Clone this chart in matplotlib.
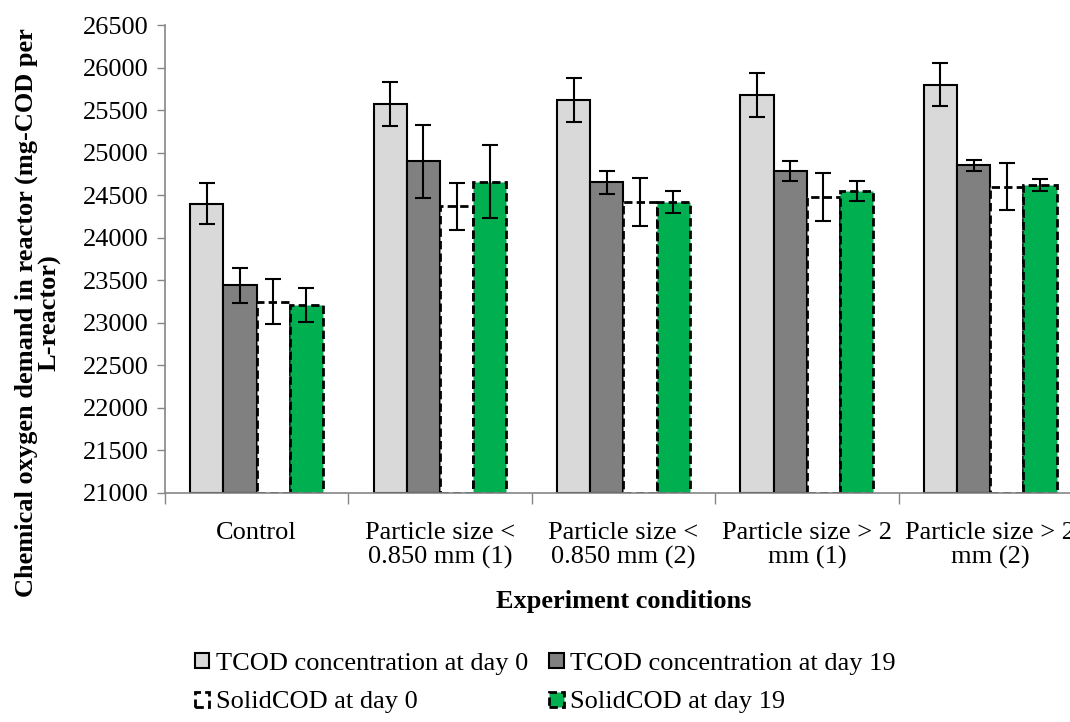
import matplotlib.pyplot as plt
import numpy as np

plt.rcParams['font.family'] = ['Liberation Serif', 'DejaVu Serif']

conditions = ['Control', 'Particle size <\n0.850 mm (1)', 'Particle size <\n0.850 mm (2)',
              'Particle size > 2\nmm (1)', 'Particle size > 2\nmm (2)']

tcod_day0 = [24400, 25570, 25620, 25680, 25800]
tcod_day0_err = [240, 260, 260, 260, 255]
tcod_day19 = [23440, 24900, 24650, 24790, 24850]
tcod_day19_err = [210, 430, 130, 118, 67]
solid_day0 = [23250, 24370, 24420, 24480, 24600]
solid_day0_err = [260, 278, 280, 280, 278]
solid_day19 = [23210, 24660, 24420, 24550, 24620]
solid_day19_err = [200, 427, 133, 116, 67]

base = 21000
x = np.arange(len(conditions))
w = 0.181
fs = 19

fig = plt.figure(figsize=(10.7, 7.22), dpi=100)
ax = fig.add_axes([0.1542, 0.3172, 0.857, 0.648])

series = [
    (tcod_day0, tcod_day0_err, '#D9D9D9', '-', 'TCOD concentration at day 0'),
    (tcod_day19, tcod_day19_err, '#808080', '-', 'TCOD concentration at day 19'),
    (solid_day0, solid_day0_err, 'white', (0, (3, 1.5)), 'SolidCOD at day 0'),
    (solid_day19, solid_day19_err, '#00B050', (0, (3, 1.5)), 'SolidCOD at day 19'),
]

handles = []
for i, (vals, errs, color, ls, label) in enumerate(series):
    vals = np.array(vals)
    pos = x + (i - 1.5) * w
    lw = 1.5 if ls == '-' else 2
    b = ax.bar(pos, vals - base, bottom=base, width=w, color=color, edgecolor='black',
               linewidth=lw, linestyle=ls, label=label, zorder=2)
    handles.append(b)
    ax.errorbar(pos, vals, yerr=errs, fmt='none', ecolor='black', elinewidth=1.5,
                capsize=6, capthick=1.5, zorder=3)

ax.set_ylim(21000, 26500)
ax.set_yticks(np.arange(21000, 26501, 500))
ax.set_xlim(-0.5, len(conditions) - 0.5)
ax.set_xticks(x)
ax.set_xticklabels(conditions, fontsize=fs, linespacing=1.1)
ax.set_xticks(np.arange(-0.5, len(conditions), 1), minor=True)
ax.tick_params(axis='x', which='major', length=0, pad=21)
ax.tick_params(axis='x', which='minor', length=8, color='#868686', width=1)
ax.tick_params(axis='y', labelsize=fs, length=6, color='#868686', width=1, pad=6)

for s in ['top', 'right']:
    ax.spines[s].set_visible(False)
for s in ['left', 'bottom']:
    ax.spines[s].set_color('#868686')
    ax.spines[s].set_linewidth(1.2)

ax.set_xlabel('Experiment conditions', fontsize=fs, fontweight='bold', labelpad=15)
ax.set_ylabel('Chemical oxygen demand in reactor (mg-COD per\nL-reactor)',
              fontsize=fs, fontweight='bold', linespacing=1.0)
ax.yaxis.set_label_coords(-0.113, 0.385)

order = [0, 2, 1, 3]
fig.legend([handles[k] for k in order], [series[k][4] for k in order],
           loc='upper left', bbox_to_anchor=(0.172, 0.11), borderaxespad=0,
           ncol=2, frameon=False, fontsize=fs, handlelength=0.55, handleheight=0.5,
           handletextpad=0.25, columnspacing=0.8, labelspacing=0.62)

fig.savefig('out.png', dpi=100)
